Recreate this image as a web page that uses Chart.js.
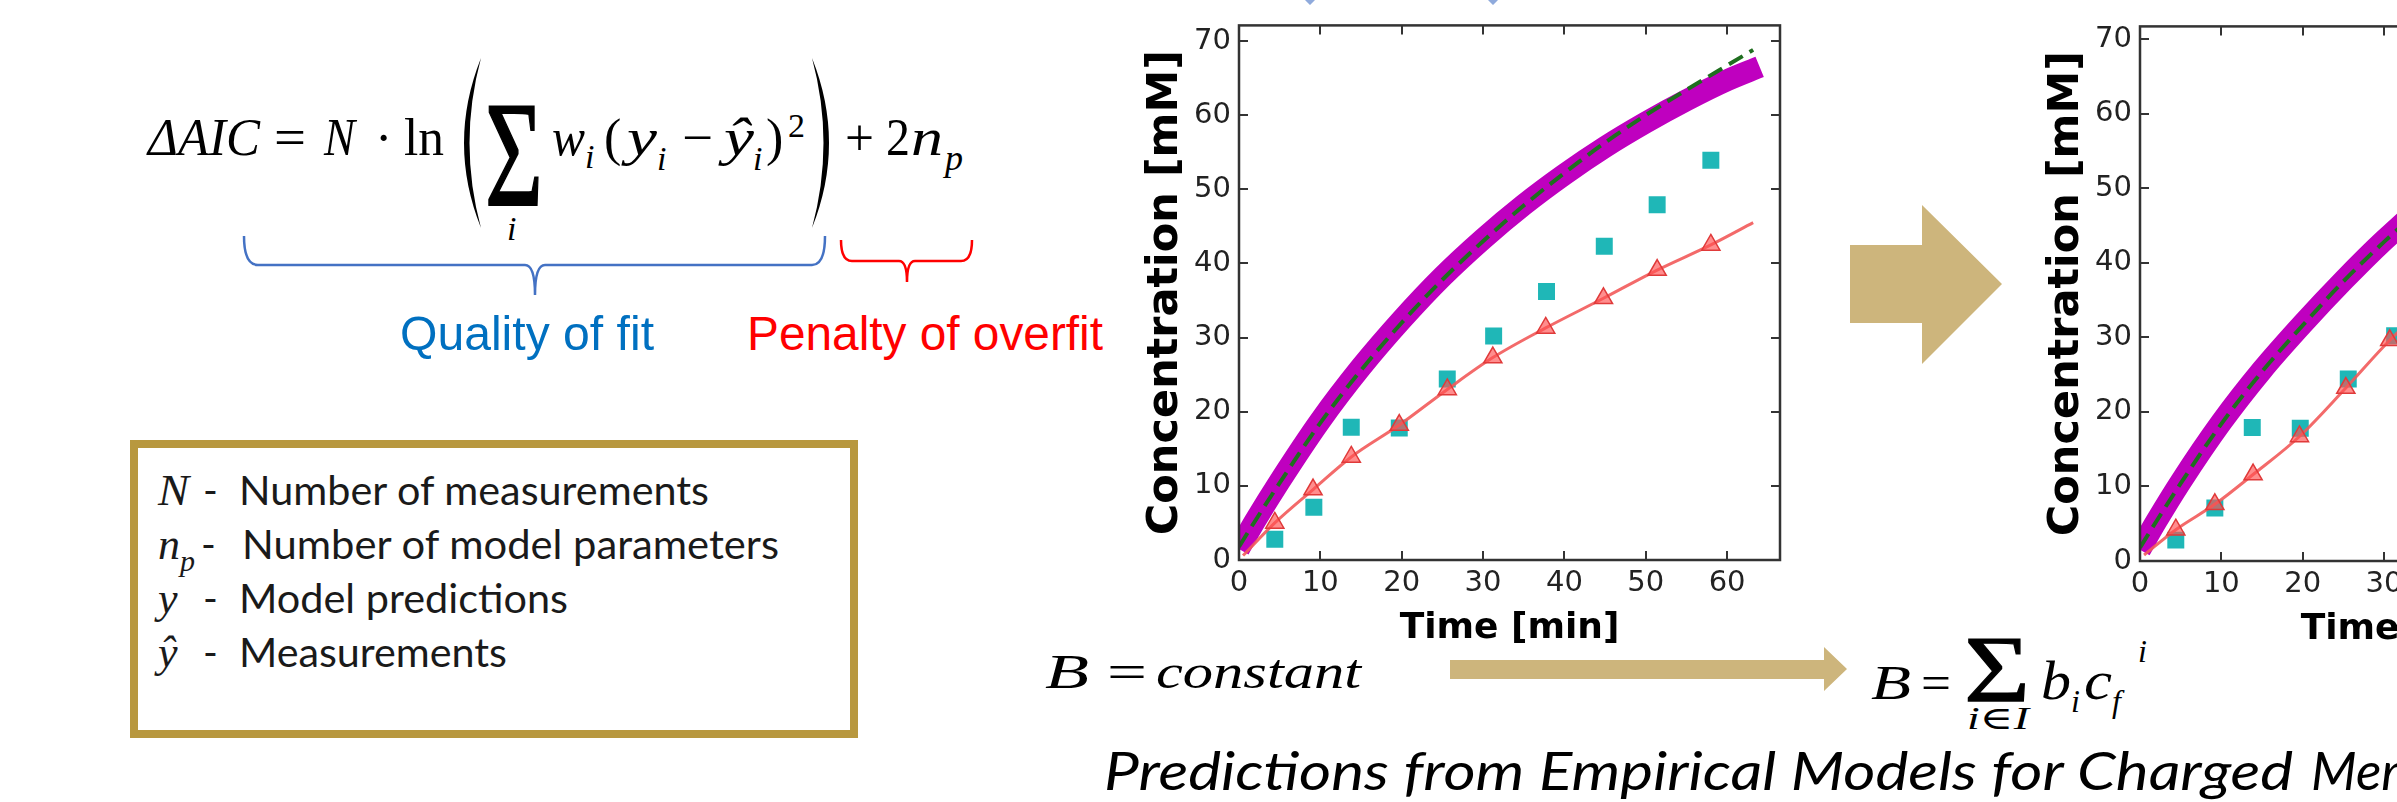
<!DOCTYPE html>
<html>
<head>
<meta charset="utf-8">
<script src="https://cdn.jsdelivr.net/npm/chart.js@4.4.1/dist/chart.umd.min.js"></script>
<style>
html,body{margin:0;padding:0;background:#fff;}
body{width:2397px;height:802px;overflow:hidden;position:relative;}
#slide{position:absolute;left:0;top:0;}
canvas{position:absolute;}
#c1{left:1100px;top:0;}
#c2{left:2001px;top:1px;}
.m{font-family:"Liberation Serif","DejaVu Serif",serif;font-style:italic;}
.u{font-family:"Liberation Serif","DejaVu Serif",serif;}
.s{font-family:Lato,"Open Sans",sans-serif;}
</style>
</head>
<body>

<svg id="slide" width="2397" height="802" xmlns="http://www.w3.org/2000/svg">
<!-- delta AIC formula -->
<g fill="#000" font-size="52">
<text class="m" x="148" y="155" textLength="112" lengthAdjust="spacingAndGlyphs">ΔAIC</text>
<text class="u" x="274" y="155" textLength="32" lengthAdjust="spacingAndGlyphs">=</text>
<text class="m" x="324" y="155" textLength="31" lengthAdjust="spacingAndGlyphs">N</text>
<text class="u" x="375" y="155">·</text>
<text class="u" x="404" y="155" textLength="40" lengthAdjust="spacingAndGlyphs">ln</text>
<path d="M481,58 Q447,143 481,228 Q458,143 481,58Z"/>
<text class="u" font-size="100" stroke="#000" stroke-width="1.2" transform="translate(485,205) scale(1,1.5)" textLength="58" lengthAdjust="spacingAndGlyphs">Σ</text>
<text class="m" x="507" y="240" font-size="34">i</text>
<text class="m" x="552" y="155" textLength="33" lengthAdjust="spacingAndGlyphs">w</text>
<text class="m" x="585" y="168" font-size="34">i</text>
<text class="u" x="604" y="155">(</text>
<text class="m" x="627" y="155" textLength="30" lengthAdjust="spacingAndGlyphs">y</text>
<text class="m" x="657" y="170" font-size="34">i</text>
<text class="u" x="682" y="155" textLength="31" lengthAdjust="spacingAndGlyphs">−</text>
<text class="m" x="724" y="155" textLength="30" lengthAdjust="spacingAndGlyphs">ŷ</text>
<text class="m" x="753" y="170" font-size="34">i</text>
<text class="u" x="766" y="155">)</text>
<text class="u" x="788" y="137" font-size="34">2</text>
<path d="M812,58 Q846,143 812,228 Q835,143 812,58Z"/>
<text class="u" x="845" y="155" textLength="29" lengthAdjust="spacingAndGlyphs">+</text>
<text class="u" x="886" y="155" textLength="24" lengthAdjust="spacingAndGlyphs">2</text>
<text class="m" x="911" y="155" textLength="32" lengthAdjust="spacingAndGlyphs">n</text>
<text class="m" x="945" y="170" font-size="36">p</text>
</g>
<path d="M244,236 Q244,265 258,265 L525,265 Q535,265 535,295 Q535,265 545,265 L812,265 Q825,265 825,236" fill="none" stroke="#4472C4" stroke-width="2.5"/>
<path d="M841,240 Q841,261 852,261 L899,261 Q907,261 907,282 Q907,261 915,261 L961,261 Q972,261 972,240" fill="none" stroke="#FF0000" stroke-width="2.5"/>
<g font-family="Liberation Sans, Arial, sans-serif" font-size="48">
<text x="400" y="350" fill="#0070C0" textLength="254" lengthAdjust="spacingAndGlyphs">Quality of fit</text>
<text x="747" y="350" fill="#FF0000" textLength="356" lengthAdjust="spacingAndGlyphs">Penalty of overfit</text>
</g>

<!-- symbol box -->
<rect x="134" y="444" width="720" height="290" fill="#fff" stroke="#B8983F" stroke-width="8"/>
<g fill="#1a1a1a" font-size="40">
<text class="m" x="158" y="505" font-size="44" textLength="31" lengthAdjust="spacingAndGlyphs">N</text>
<text class="s" x="203" y="505">-</text>
<text class="s" x="239" y="505" textLength="470" lengthAdjust="spacingAndGlyphs">Number of measurements</text>
<text class="m" x="158" y="559" font-size="44">n</text>
<text class="m" x="180" y="571" font-size="30">p</text>
<text class="s" x="201" y="559">-</text>
<text class="s" x="242" y="559" textLength="537" lengthAdjust="spacingAndGlyphs">Number of model parameters</text>
<text class="m" x="158" y="613" font-size="44">y</text>
<text class="s" x="203" y="613">-</text>
<text class="s" x="239" y="613" textLength="329" lengthAdjust="spacingAndGlyphs">Model predictions</text>
<text class="m" x="158" y="667" font-size="44">ŷ</text>
<text class="s" x="203" y="667">-</text>
<text class="s" x="239" y="667" textLength="268" lengthAdjust="spacingAndGlyphs">Measurements</text>
</g>

<!-- bits of a bracket cut off above the plot -->
<path d="M1305,0 L1310,5 L1315,0Z M1488,0 L1493,5 L1498,0Z" fill="#8FAADC"/>

<!-- arrows -->
<polygon points="1850,245 1922,245 1922,205 2002,284 1922,364 1922,323 1850,323" fill="#CDB57C"/>
<polygon points="1450,660 1824,660 1824,647 1847,669 1824,691 1824,679 1450,679" fill="#CDB57C"/>

<!-- B expressions -->
<g fill="#000" font-size="48">
<text class="m" x="1045" y="688" textLength="44" lengthAdjust="spacingAndGlyphs">B</text>
<text class="u" x="1107" y="688" textLength="40" lengthAdjust="spacingAndGlyphs">=</text>
<text class="m" x="1156" y="688" textLength="205" lengthAdjust="spacingAndGlyphs">constant</text>
<text class="m" x="1871" y="699" textLength="40" lengthAdjust="spacingAndGlyphs">B</text>
<text class="u" x="1921" y="699" textLength="30" lengthAdjust="spacingAndGlyphs">=</text>
<text class="u" font-size="100" stroke="#000" stroke-width="1.2" transform="translate(1964,702) scale(1,0.95)" textLength="66" lengthAdjust="spacingAndGlyphs">Σ</text>
<text class="m" x="1967" y="729" font-size="32" textLength="62" lengthAdjust="spacingAndGlyphs">i∈I</text>
<text class="m" x="2041" y="699" font-size="54" textLength="30" lengthAdjust="spacingAndGlyphs">b</text>
<text class="m" x="2071" y="712" font-size="32">i</text>
<text class="m" x="2084" y="699" font-size="54" textLength="28" lengthAdjust="spacingAndGlyphs">c</text>
<text class="m" x="2112" y="712" font-size="32">f</text>
<text class="m" x="2138" y="662" font-size="32">i</text>
</g>
<g font-family="Lato, 'Open Sans', sans-serif" font-style="italic" font-size="53" fill="#000" style="white-space:pre">
<text x="1104" y="790" textLength="1189" lengthAdjust="spacingAndGlyphs">Predictions  from Empirical Models for Charged</text>
<text x="2311" y="790">Membranes</text>
</g>
</svg>

<canvas id="c1" width="700" height="680"></canvas>
<canvas id="c2" width="700" height="680"></canvas>

<script>
// measurements (cyan squares), same in both panels
const measTime=[4.4,9.2,13.8,19.7,25.6,31.3,37.8,44.9,51.4,58.0]
const measConc=[2.8,7.1,17.9,17.8,24.4,30.2,36.2,42.3,47.9,53.9]

// left panel, B = constant
const bandTime1=[0,2,5,10,15,20,25,30,35,40,45,50,55,60,64]
const bandConc1=[1.5,5.3,10.6,18.8,26.0,32.4,38.2,43.3,47.9,52.0,55.7,59.0,62.0,64.7,66.5]
const dashTime1=[0,2,5,10,15,20,25,30,35,40,45,50,55,60,63.2]
const dashConc1=[1.8,5.3,10.4,18.5,25.6,32.0,37.8,43.0,47.8,52.2,56.3,60.0,63.4,66.7,68.8]
const fitTime1=[0.5,4.4,9.1,13.8,19.7,25.6,31.2,37.7,44.8,51.4,58.0,63.2]
const fitConc1=[0.6,5.0,9.5,13.9,18.2,23.0,27.3,31.3,35.3,39.1,42.5,45.5]
const triTime1=[4.4,9.1,13.8,19.7,25.6,31.2,37.7,44.8,51.4,58.0]
const triConc1=[5.0,9.5,13.9,18.2,23.0,27.3,31.3,35.3,39.1,42.5]

// right panel, B = sum b_i c_f^i (only the left part is on the slide)
const bandTime2=[0,2,5,10,15,20,25,30,35,40]
const bandConc2=[1.5,5.3,10.6,18.6,25.6,31.8,37.6,43.0,47.8,52.0]
const dashTime2=[0,2,5,10,15,20,25,30,35,40]
const dashConc2=[1.8,5.3,10.4,18.4,25.4,31.6,37.5,42.8,47.7,52.2]
const fitTime2=[0.5,4.4,9.2,13.9,19.6,25.3,30.7,36.5]
const fitConc2=[0.8,4.2,7.6,11.6,16.7,23.2,29.6,35.5]
const triTime2=[4.4,9.2,13.9,19.6,25.3,30.7]
const triConc2=[4.2,7.6,11.6,16.7,23.2,29.6]

const tickStep=10

function pts(xs,ys){
return xs.map((x,i)=>({x:x,y:ys[i]}))
}

// box round the plot with inward ticks on all sides
const frame={
id:"frame",
afterDraw(chart){
const {ctx,chartArea:a,scales:{x,y}}=chart
ctx.save()
ctx.strokeStyle="#333"
ctx.lineWidth=2.5
ctx.strokeRect(a.left,a.top,a.right-a.left,a.bottom-a.top)
ctx.lineWidth=2
ctx.beginPath()
x.ticks.forEach(t=>{
const px=Math.round(x.getPixelForValue(t.value))
ctx.moveTo(px,a.bottom);ctx.lineTo(px,a.bottom-9)
ctx.moveTo(px,a.top);ctx.lineTo(px,a.top+9)
})
y.ticks.forEach(t=>{
const py=Math.round(y.getPixelForValue(t.value))
ctx.moveTo(a.left,py);ctx.lineTo(a.left+9,py)
ctx.moveTo(a.right,py);ctx.lineTo(a.right-9,py)
})
ctx.stroke()
ctx.restore()
}
}

function panel(id,ymax,d){
const tickFont={family:"DejaVu Sans",size:29}
return new Chart(document.getElementById(id),{
type:"scatter",
data:{datasets:[
{data:pts(d.triT,d.triC),pointStyle:"triangle",pointRadius:10.5,backgroundColor:"rgba(255,80,80,0.65)",borderColor:"#e03a3a",borderWidth:1.5,order:0},
{data:pts(d.fitT,d.fitC),showLine:true,pointRadius:0,borderColor:"rgba(242,90,90,0.9)",borderWidth:3,cubicInterpolationMode:"monotone",order:1},
{data:pts(measTime,measConc),pointStyle:"rect",pointRadius:12,backgroundColor:"#1fb7b7",borderColor:"#1fb7b7",borderWidth:0,order:2},
{data:pts(d.dashT,d.dashC),showLine:true,pointRadius:0,borderColor:"#1f6e1f",borderWidth:4,borderDash:[16,8],cubicInterpolationMode:"monotone",order:3},
{data:pts(d.bandT,d.bandC),showLine:true,pointRadius:0,borderColor:"#bf00bf",borderWidth:22,cubicInterpolationMode:"monotone",order:4}
]},
options:{
responsive:false,
animation:false,
devicePixelRatio:1,
layout:{padding:{left:40,top:19,right:20,bottom:30}},
plugins:{legend:{display:false},tooltip:{enabled:false}},
scales:{
x:{
type:"linear",min:0,max:66.5,
afterFit:s=>{s.height=90},
grid:{display:false,drawTicks:false},
border:{display:false},
ticks:{stepSize:tickStep,includeBounds:false,padding:6,maxRotation:0,color:"#222",font:tickFont},
title:{display:true,text:"Time [min]",color:"#000",padding:0,font:{family:"DejaVu Sans",weight:"bold",size:36}}
},
y:{
type:"linear",min:0,max:ymax,
afterFit:s=>{s.width=99},
grid:{display:false,drawTicks:false},
border:{display:false},
ticks:{stepSize:tickStep,includeBounds:false,padding:8,color:"#222",font:tickFont},
title:{display:true,text:"Concentration [mM]",color:"#000",padding:0,font:{family:"DejaVu Sans",weight:"bold",size:43}}
}
}
},
plugins:[frame]
})
}

panel("c1",72.1,{bandT:bandTime1,bandC:bandConc1,dashT:dashTime1,dashC:dashConc1,fitT:fitTime1,fitC:fitConc1,triT:triTime1,triC:triConc1})
panel("c2",71.7,{bandT:bandTime2,bandC:bandConc2,dashT:dashTime2,dashC:dashConc2,fitT:fitTime2,fitC:fitConc2,triT:triTime2,triC:triConc2})
</script>
</body>
</html>
